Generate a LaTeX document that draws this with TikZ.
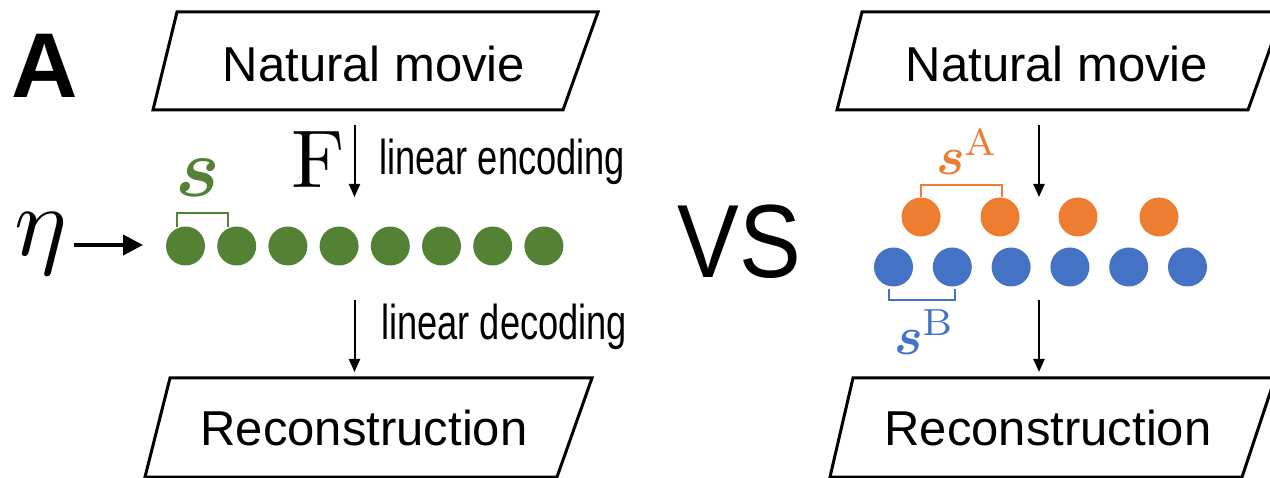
\documentclass[tikz,border=0pt]{standalone}
\usepackage{fontspec}
\usepackage{amsmath}
\newfontfamily\helv{Liberation Sans}
\usetikzlibrary{arrows.meta,calc}
\definecolor{cgreen}{RGB}{84,130,53}
\definecolor{corange}{RGB}{237,125,49}
\definecolor{cblue}{RGB}{68,114,196}

\begin{document}
\begin{tikzpicture}[x=1pt,y=-1pt,
  box/.style={line width=3pt,line join=miter},
  flow/.style={line width=2pt,-{Triangle[length=13pt,width=11pt]}},
  big/.style={inner sep=0pt,anchor=base,font=\helv\fontsize{49}{55}\selectfont},
  small/.style={inner sep=0pt,anchor=base west,font=\helv\fontsize{49}{55}\selectfont},
  sym/.style={inner sep=0pt,anchor=base},
  unit/.style={circle,inner sep=0pt,minimum size=39pt,fill=#1}]
\useasboundingbox (0,0) rectangle (1270,478);
\clip (0,0) rectangle (1270,478);
% Panel letter
\node [inner sep=0pt,anchor=base,font=\helv\bfseries\fontsize{92}{96}\selectfont] (panel) at (45,98) {A};
% Boxes "Natural movie"
\draw [box] (177,12) -- (598,12) -- (563,110) -- (153,110) -- cycle;
\draw [box] (862,12) -- (1283,12) -- (1248,110) -- (837,110) -- cycle;
\node [big] (movieL) at (374,82) {Natural movie};
\node [big] (movieR) at (1057,82) {Natural movie};
% Boxes "Reconstruction"
\draw [box] (170,378) -- (592,378) -- (557,477) -- (145,477) -- cycle;
\draw [box] (853,378) -- (1275,378) -- (1242,477) -- (830,477) -- cycle;
\node [big] (recL) at (364,446) {Reconstruction};
\node [big] (recR) at (1048,446) {Reconstruction};
% Left: encoding and decoding arrows
\coordinate (encL-a) at (354.5,125);
\coordinate (encL-b) at (354.5,197);
\coordinate (decL-a) at (354.5,300);
\coordinate (decL-b) at (354.5,372);
\draw [flow] (encL-a) -- (encL-b);
\draw [flow] (decL-a) -- (decL-b);
\node [small] (enc) at (379,175) {\scalebox{0.74}[1]{linear encoding}};
\node [small] (dec) at (381,340) {\scalebox{0.74}[1]{linear decoding}};
% Label F
\node [sym] (F) at (318,188) {\scalebox{8.2}{$\mathrm{F}$}};
% Green population
\foreach \i in {1,...,8}
  \node [unit=cgreen] (g\i) at (134.3+51.2*\i,246) {};
% Label eta and its arrow
\node [sym,anchor=base west] (eta) at (14,256) {\scalebox{9.9}{$\eta$}};
\coordinate (eta-a) at (74,245);
\coordinate (eta-b) at (143,245);
\draw [line width=4pt,-{Triangle[length=20pt,width=20pt]}] (eta-a) -- (eta-b);
% Bracket s
\draw [cgreen,line width=2.5pt] (177,227) -- (177,213) -- (228,213) -- (228,227);
\node [sym,text=cgreen] (sG) at (198,197) {\scalebox{8.4}{$\boldsymbol{s}$}};
% VS
\node [inner sep=0pt,anchor=base,font=\helv\fontsize{104}{110}\selectfont] (vs) at (739,278) {\scalebox{0.89}[1]{VS}};
% Right: arrows
\coordinate (encR-a) at (1039,125);
\coordinate (encR-b) at (1039,197);
\coordinate (decR-a) at (1039,300);
\coordinate (decR-b) at (1039,372);
\draw [flow] (encR-a) -- (encR-b);
\draw [flow] (decR-a) -- (decR-b);
% Orange population
\foreach \i/\x in {1/921,2/1000,3/1078,4/1159}
  \node [unit=corange] (o\i) at (\x,217) {};
\draw [corange,line width=2.5pt] (921,197) -- (921,185) -- (1002,185) -- (1002,197);
\node [sym,anchor=base west,text=corange] (sA) at (936,175) {\scalebox{5.4}{$\boldsymbol{s}^{\mathrm{A}}$}};
% Blue population
\foreach \i in {1,...,6}
  \node [unit=cblue] (b\i) at (834.7+58.8*\i,267) {};
\draw [cblue,line width=2.5pt] (889,289) -- (889,300) -- (955,300) -- (955,289);
\node [sym,anchor=base west,text=cblue] (sB) at (894,355) {\scalebox{5.4}{$\boldsymbol{s}^{\mathrm{B}}$}};
\end{tikzpicture}
\end{document}
